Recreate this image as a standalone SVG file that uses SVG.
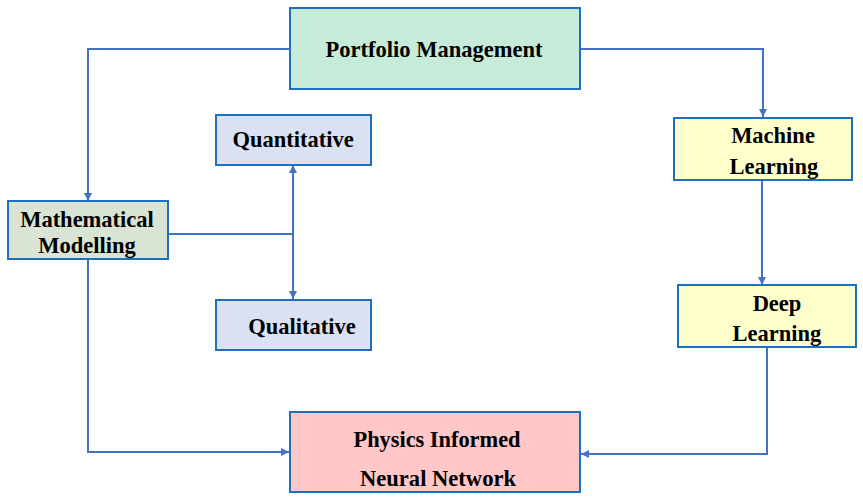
<svg xmlns="http://www.w3.org/2000/svg" width="863" height="500" viewBox="0 0 863 500">
<style>
.box{stroke:#1f6fbf;stroke-width:2}
.t{font-family:"Liberation Serif","Times New Roman",serif;font-weight:bold;font-size:22.5px;fill:#000;text-anchor:middle}
.n{font-size:24px}
.c{fill:none;stroke:#4472c4;stroke-width:2}
</style>
<defs>
<marker id="a" viewBox="0 0 10 10" refX="10" refY="5" markerWidth="4" markerHeight="4" orient="auto" markerUnits="strokeWidth">
<path d="M0,0 L10,5 L0,10 z" fill="#4472c4"/>
</marker>
</defs>
<rect width="863" height="500" fill="#fff"/>
<g id="connectors">
<path class="c" d="M289,49 H88 V201" marker-end="url(#a)"/>
<path class="c" d="M580,49 H763 V117" marker-end="url(#a)"/>
<path class="c" d="M762,180 V285" marker-end="url(#a)"/>
<path class="c" d="M767,347 V454 H581" marker-end="url(#a)"/>
<path class="c" d="M88,259 V452 H289" marker-end="url(#a)"/>
<path class="c" d="M168,234 H293"/>
<path class="c" d="M293,234 V165" marker-end="url(#a)"/>
<path class="c" d="M293,234 V299" marker-end="url(#a)"/>
</g>
<g id="portfolio">
<rect class="box" x="290" y="8" width="290" height="81" fill="#c6ebd9"/>
<text class="t" x="434" y="57">Portfolio Management</text>
</g>
<g id="machine">
<rect class="box" x="674" y="118" width="178" height="62" fill="#ffffcc"/>
<text class="t" x="773" y="143">Machine</text>
<text class="t" x="774" y="174">Learning</text>
</g>
<g id="deep">
<rect class="box" x="678" y="285" width="178" height="62" fill="#ffffcc"/>
<text class="t" x="777" y="311">Deep</text>
<text class="t" x="777" y="341">Learning</text>
</g>
<g id="math">
<rect class="box" x="8" y="201" width="160" height="58" fill="#d9e4d5"/>
<text class="t" x="87" y="227">Mathematical</text>
<text class="t" x="87" y="253">Modelling</text>
</g>
<g id="quant">
<rect class="box" x="216" y="115" width="155" height="50" fill="#d9e1f2"/>
<text class="t" x="293" y="147">Quantitative</text>
</g>
<g id="qual">
<rect class="box" x="216" y="300" width="155" height="50" fill="#d9e1f2"/>
<text class="t" x="302" y="334">Qualitative</text>
</g>
<g id="pinn">
<rect class="box" x="290" y="412" width="290" height="80" fill="#ffc7c7"/>
<text class="t n" x="437" y="447" textLength="167" lengthAdjust="spacingAndGlyphs">Physics Informed</text>
<text class="t n" x="438" y="486" textLength="156" lengthAdjust="spacingAndGlyphs">Neural Network</text>
</g>
</svg>
